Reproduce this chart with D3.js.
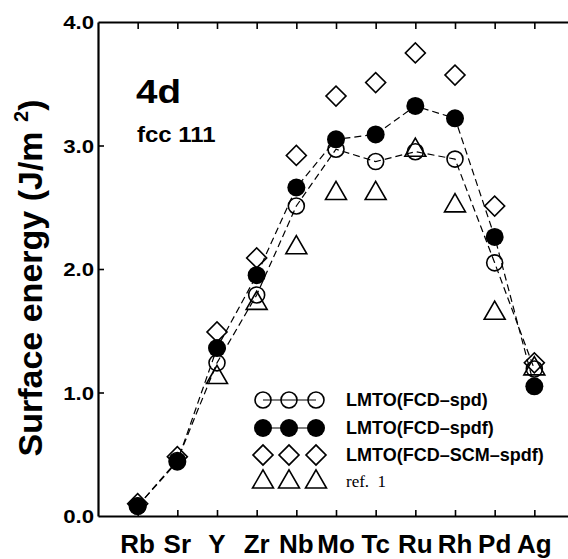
<!DOCTYPE html>
<html>
<head>
<meta charset="utf-8">
<script src="https://cdn.jsdelivr.net/npm/d3@7"></script>
<style>
  body { margin: 0; background: #fff; }
  text { font-family: "Liberation Sans", Arial, Helvetica, sans-serif; fill: #000; }
</style>
</head>
<body>
<div id="chart"></div>
<script>
// chart size
let svgWidth = 568;
let svgHeight = 559;

// data
let elements = ["Rb", "Sr", "Y", "Zr", "Nb", "Mo", "Tc", "Ru", "Rh", "Pd", "Ag"];
let spd   = [0.08, 0.45, 1.24, 1.79, 2.51, 2.97, 2.87, 2.95, 2.89, 2.05, 1.19];
let spdf  = [0.08, 0.44, 1.36, 1.95, 2.66, 3.05, 3.09, 3.32, 3.22, 2.26, 1.05];
let scm   = [0.10, 0.48, 1.49, 2.09, 2.92, 3.40, 3.51, 3.75, 3.57, 2.51, 1.24];
let ref1  = [null, null, 1.13, 1.73, 2.18, 2.62, 2.62, 2.97, 2.52, 1.65, 1.20];
let yTicks = [0, 1, 2, 3, 4];
let legendLabels = ["LMTO(FCD\u2013spd)", "LMTO(FCD\u2013spdf)", "LMTO(FCD\u2013SCM\u2013spdf)", "ref.  1"];

let plot = { left: 98, right: 574, top: 22, bottom: 516 };

let svg = d3.select("#chart")
  .append("svg")
  .attr("width", svgWidth)
  .attr("height", svgHeight);

let xScale = d3.scaleLinear().domain([-1, 11]).range([plot.left, plot.right]);
let yScale = d3.scaleLinear().domain([0, 4]).range([plot.bottom, plot.top]);

/********************************************/
// axes: frame with inward ticks
let xAxisBottom = d3.axisBottom(xScale)
  .tickValues(d3.range(elements.length))
  .tickSizeInner(-6).tickSizeOuter(0).tickFormat("");
let xAxisTop = d3.axisTop(xScale)
  .tickValues(d3.range(elements.length))
  .tickSizeInner(-7).tickSizeOuter(0).tickFormat("");
let yAxisLeft = d3.axisLeft(yScale)
  .tickValues([1, 2, 3])
  .tickSizeInner(-6).tickSizeOuter(0).tickFormat("");
let yAxisRight = d3.axisRight(yScale)
  .tickValues([1, 2, 3])
  .tickSizeInner(-6).tickSizeOuter(0).tickFormat("");

function styleAxis(g) {
  g.select(".domain").attr("stroke", "#000").attr("stroke-width", 2.2);
  g.selectAll(".tick line").attr("stroke", "#000").attr("stroke-width", 1.6);
}

svg.append("g").attr("transform", `translate(0,${plot.bottom})`).call(xAxisBottom).call(styleAxis);
svg.append("g").attr("transform", `translate(0,${plot.top})`).call(xAxisTop).call(styleAxis);
svg.append("g").attr("transform", `translate(${plot.left},0)`).call(yAxisLeft).call(styleAxis);
svg.append("g").attr("transform", `translate(${plot.right},0)`).call(yAxisRight).call(styleAxis);

// y tick labels (the original type is a little wider than Liberation Sans)
svg.append("g").selectAll("text")
  .data(yTicks)
  .enter()
  .append("text")
  .attr("transform", (d) => `translate(${plot.left - 4},${yScale(d) + 7}) scale(1.17,1)`)
  .attr("text-anchor", "end")
  .style("font-size", "19px")
  .style("font-weight", "bold")
  .text((d) => d.toFixed(1));

// x tick labels
svg.append("g").selectAll("text")
  .data(elements)
  .enter()
  .append("text")
  .attr("transform", (d, i) => `translate(${xScale(i)},553) scale(1.04,1)`)
  .attr("text-anchor", "middle")
  .style("font-size", "25px")
  .style("font-weight", "bold")
  .text((d) => d);

// y axis title
svg.append("text")
  .attr("transform", `translate(42, 278) rotate(-90)`)
  .attr("text-anchor", "middle")
  .style("font-size", "34px")
  .style("font-weight", "bold")
  .html('Surface energy (J/m <tspan dy="-14" font-size="20px">2</tspan><tspan dy="14">)</tspan>');

// panel labels
svg.append("text").attr("transform", "translate(136,103) scale(1.17,1)")
  .style("font-size", "33px").style("font-weight", "bold").text("4d");
svg.append("text").attr("transform", "translate(137,142) scale(1.09,1)")
  .style("font-size", "22px").style("font-weight", "bold").text("fcc 111");

/********************************************/
// dashed connecting lines
let line = d3.line()
  .x((d, i) => xScale(i))
  .y((d) => yScale(d));

[spd, spdf].forEach(function (series) {
  svg.append("path")
    .datum(series)
    .attr("d", line)
    .attr("fill", "none")
    .attr("stroke", "#000")
    .attr("stroke-width", 1.2)
    .attr("stroke-dasharray", "7,4");
});

// marker drawing helpers
let diamond = d3.symbol().type(d3.symbolSquare).size(200);
let triangle = d3.symbol().type(d3.symbolTriangle).size(190);

function drawMarker(g, kind, x, y) {
  if (kind === "spd") {
    g.append("circle").attr("cx", x).attr("cy", y).attr("r", 8)
      .attr("fill", "none").attr("stroke", "#000").attr("stroke-width", 1.6);
  } else if (kind === "spdf") {
    g.append("circle").attr("cx", x).attr("cy", y).attr("r", 9)
      .attr("fill", "#000");
  } else if (kind === "scm") {
    g.append("path").attr("d", diamond)
      .attr("transform", `translate(${x},${y}) rotate(45)`)
      .attr("fill", "none").attr("stroke", "#000").attr("stroke-width", 1.6);
  } else {
    g.append("path").attr("d", triangle)
      .attr("transform", `translate(${x},${y + 1})`)
      .attr("fill", "none").attr("stroke", "#000").attr("stroke-width", 1.6);
  }
}

let markers = svg.append("g");
let seriesList = [["ref", ref1], ["scm", scm], ["spdf", spdf], ["spd", spd]];
seriesList.forEach(function (s) {
  s[1].forEach(function (v, i) {
    if (v === null) return;
    drawMarker(markers, s[0], xScale(i), yScale(v));
  });
});

/********************************************/
// legend
let legendKinds = ["spd", "spdf", "scm", "ref"];
let legendY = [400, 428, 455, 481];
let legendX = [263, 289, 316];
let legend = svg.append("g");

legendKinds.forEach(function (kind, r) {
  if (kind === "spd" || kind === "spdf") {
    legend.append("line")
      .attr("x1", legendX[0]).attr("x2", legendX[2])
      .attr("y1", legendY[r]).attr("y2", legendY[r])
      .attr("stroke", "#000").attr("stroke-width", 1.2);
  }
  legendX.forEach(function (x) {
    drawMarker(legend, kind, x, legendY[r]);
  });
  legend.append("text")
    .attr("x", 346)
    .attr("y", legendY[r] + 6)
    .style("font-size", kind === "ref" ? "17px" : "18px")
    .style("font-weight", kind === "ref" ? "normal" : "bold")
    .style("font-family", kind === "ref" ? "'Liberation Serif', serif" : null)
    .attr("xml:space", "preserve")
    .text(legendLabels[r]);
});
</script>
</body>
</html>
